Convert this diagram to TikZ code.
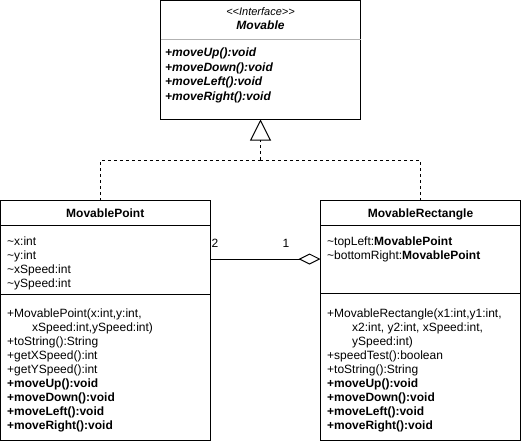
\documentclass[tikz,border=0pt]{standalone}
\usepackage{fontspec}
\setmainfont{Liberation Sans}
\usetikzlibrary{arrows.meta}
\tikzset{
  umlbox/.style={draw, line width=1pt, inner sep=0pt, outer sep=0pt, anchor=north west, fill=white},
  sepline/.style={line width=1pt},
  ln/.style={inner sep=0pt, anchor=base west, font=\fontsize{12}{14}\selectfont},
  ttl/.style={inner sep=0pt, anchor=base, font=\fontsize{12}{14}\selectfont\bfseries},
  realize/.style={line width=1pt, dash pattern=on 3pt off 3pt},
  assoc/.style={line width=1pt},
  mult/.style={inner sep=0pt, anchor=base, font=\fontsize{12}{14}\selectfont},
}
\begin{document}
\begin{tikzpicture}[x=1pt,y=-1pt]
\useasboundingbox (0,0) rectangle (521,444);

% Interface Movable
\node[umlbox, minimum width=200pt, minimum height=119pt] (iface) at (160.5,0.5) {};
\draw[sepline, gray!60] (160.5,39.5) -- (360.5,39.5);
\node[inner sep=0pt, anchor=base, font=\fontsize{11}{13}\selectfont\itshape] (stereo) at (260.5,15.5) {<\kern0pt<Interface>\kern0pt>};
\node[inner sep=0pt, anchor=base, font=\fontsize{12}{14}\selectfont\bfseries\itshape] (ifname) at (260.5,30) {Movable};
\foreach \t [count=\i from 0] in {{+moveUp():void},{+moveDown():void},{+moveLeft():void},{+moveRight():void}}
  \node[ln, font=\fontsize{12}{14}\selectfont\bfseries\itshape] (if-m\i) at (165,56.5+14.5*\i) {\t};

% MovablePoint
\node[umlbox, minimum width=209.5pt, minimum height=240pt] (mp) at (0.5,200.5) {};
\draw[sepline] (0.5,225.5) -- (210,225.5);
\draw[sepline] (0.5,294) -- (210,294);
\node[ttl] (mp-name) at (105.25,217.5) {MovablePoint};
\foreach \t [count=\i from 0] in {{\textasciitilde x:int},{\textasciitilde y:int},{\textasciitilde xSpeed:int},{\textasciitilde ySpeed:int}}
  \node[ln] (mp-a\i) at (7,245+14*\i) {\t};
\node[ln] (mp-m0) at (7,317) {+MovablePoint(x:int,y:int,};
\node[ln] (mp-m1) at (32,331) {xSpeed:int,ySpeed:int)};
\foreach \t [count=\i from 2] in {{+toString():String},{+getXSpeed():int},{+getYSpeed():int},{\textbf{+moveUp():void}},{\textbf{+moveDown():void}},{\textbf{+moveLeft():void}},{\textbf{+moveRight():void}}}
  \node[ln] (mp-m\i) at (7,317+14*\i) {\t};

% MovableRectangle
\node[umlbox, minimum width=200pt, minimum height=240pt] (mr) at (320.5,200.5) {};
\draw[sepline] (320.5,225.5) -- (520.5,225.5);
\draw[sepline] (320.5,293.5) -- (520.5,293.5);
\node[ttl] (mr-name) at (420.5,217.5) {MovableRectangle};
\node[ln] (mr-a0) at (327,245) {\textasciitilde topLeft:\textbf{MovablePoint}};
\node[ln] (mr-a1) at (327,259) {\textasciitilde bottomRight:\textbf{MovablePoint}};
\node[ln] (mr-m0) at (327,317) {+MovableRectangle(x1:int,y1:int,};
\node[ln] (mr-m1) at (352,331) {x2:int, y2:int, xSpeed:int,};
\node[ln] (mr-m2) at (352,345) {ySpeed:int)};
\foreach \t [count=\i from 3] in {{+speedTest():boolean},{+toString():String},{\textbf{+moveUp():void}},{\textbf{+moveDown():void}},{\textbf{+moveLeft():void}},{\textbf{+moveRight():void}}}
  \node[ln] (mr-m\i) at (327,317+14*\i) {\t};

% Realization connectors
\coordinate (join) at (260.5,160);
\draw[realize] ([xshift=-5pt]mp.north) |- (join);
\draw[realize] (mr.north) |- (join);
\draw[realize, -{Triangle[open, length=21pt, width=21pt, line width=1pt]}] (join) -- (iface.south);

% Aggregation
\draw[assoc, -{Diamond[open, length=22pt, width=11pt, line width=1pt]}] ([yshift=61.5pt]mp.east) -- ([yshift=61.5pt]mr.west);
\node[mult] (mult2) at (215,247.5) {2};
\node[mult] (mult1) at (286,247.5) {1};
\end{tikzpicture}
\end{document}
